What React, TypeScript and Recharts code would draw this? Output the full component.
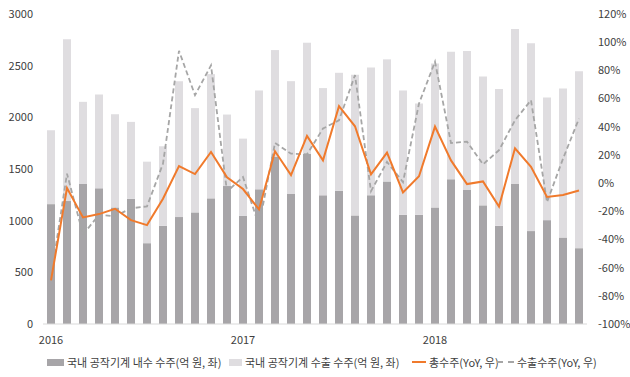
import React from "react";
import { ComposedChart, Bar, Line, XAxis, YAxis } from "recharts";

const months = [
  "2016-01", "2016-02", "2016-03", "2016-04", "2016-05", "2016-06", "2016-07", "2016-08", "2016-09", "2016-10", "2016-11", "2016-12",
  "2017-01", "2017-02", "2017-03", "2017-04", "2017-05", "2017-06", "2017-07", "2017-08", "2017-09", "2017-10", "2017-11", "2017-12",
  "2018-01", "2018-02", "2018-03", "2018-04", "2018-05", "2018-06", "2018-07", "2018-08", "2018-09", "2018-10",
];

// 내수 수주 (억 원)
const domestic = [
  1160, 1190, 1355, 1313, 1128, 1212, 782, 950, 1035, 1080, 1216, 1335,
  1048, 1303, 1617, 1258, 1646, 1245, 1290, 1051, 1245, 1380, 1057, 1057,
  1128, 1400, 1296, 1148, 950, 1355, 899, 1005, 837, 734,
];

// 수출 수주 (억 원)
const exports_ = [
  715, 1565, 795, 908, 902, 744, 789, 770, 1315, 1009, 1202, 692,
  746, 957, 1034, 1092, 1076, 1038, 1141, 1361, 1238, 1181, 1203, 1077,
  1392, 1235, 1345, 1248, 1323, 1500, 1817, 1187, 1442, 1713,
];

// 총수주 YoY (%)
const totalYoY = [
  -69, -3.5, -24.4, -22, -18.2, -26.3, -29.8, -11.1, 12.1, 6.4, 22.1, 4.1,
  -4.2, -18.7, 22.6, 5.7, 33.5, 16.1, 54.6, 40.3, 6.2, 21.6, -6.6, 4.8,
  40.1, 16.1, -0.7, 1.2, -16.6, 24.7, 11.6, -9.9, -8.5, -5.2,
];

// 수출수주 YoY (%)
const exportYoY = [
  -67, 6.7, -36.5, -22.5, -23.5, -17.9, -16.5, 13.8, 93.9, 62.4, 83.5, -6,
  4.3, -30.1, 28.5, 20.9, 20.4, 38.7, 44.6, 76.6, -5.7, 15, 0.7, 56.5,
  86.1, 28.5, 29.4, 13.3, 23.3, 44.6, 58.8, -13.5, 17.3, 45.8,
];

const yearTicks = ["2016-01", "2017-01", "2018-01"];
const leftTicks = [0, 500, 1000, 1500, 2000, 2500, 3000];
const rightTicks = [-100, -80, -60, -40, -20, 0, 20, 40, 60, 80, 100, 120];

const data = months.map((m, i) => ({
  month: m,
  domestic: domestic[i],
  exports: exports_[i],
  totalYoY: totalYoY[i],
  exportYoY: exportYoY[i],
}));

const FONT = "'Noto Sans CJK KR', 'Noto Sans', sans-serif";
const TICK = { fontSize: 11, fill: "#404040", fontFamily: FONT };
const DARK = "#a7a5a8";
const LIGHT = "#dfdde0";
const ORANGE = "#f07a2c";
const DASH = "#a6a6a6";

function LegendItem({ left, icon, label }: { left: number; icon: React.ReactNode; label: string }) {
  return (
    <div style={{ position: "absolute", left, top: 0, height: 24, display: "flex", alignItems: "center" }}>
      {icon}
      <span style={{ marginLeft: 3, fontSize: 11, color: "#404040", fontFamily: FONT, whiteSpace: "nowrap" }}>{label}</span>
    </div>
  );
}

export default function App() {
  return (
    <div style={{ position: "absolute", left: 0, top: 0, width: 630, height: 377, background: "#fff" }}>
      <ComposedChart width={630} height={350} data={data} margin={{ top: 14, right: 0, left: 0, bottom: 0 }} barSize={8}>
        <XAxis
          dataKey="month"
          ticks={yearTicks}
          interval={0}
          tickFormatter={(v: string) => v.slice(0, 4)}
          tick={TICK}
          tickLine={false}
          axisLine={{ stroke: "#d9d9d9" }}
          height={26}
          tickMargin={6}
        />
        <YAxis
          yAxisId="left"
          domain={[0, 3000]}
          ticks={leftTicks}
          tick={TICK}
          tickLine={false}
          axisLine={false}
          width={43}
          tickMargin={4}
          interval={0}
        />
        <YAxis
          yAxisId="right"
          orientation="right"
          domain={[-100, 120]}
          ticks={rightTicks}
          tickFormatter={(v: number) => `${v}%`}
          tick={{ ...TICK, textAnchor: "start" }}
          tickLine={false}
          axisLine={false}
          width={43}
          tickMargin={5}
          interval={0}
        />
        <Bar yAxisId="left" dataKey="domestic" stackId="a" fill={DARK} isAnimationActive={false} />
        <Bar yAxisId="left" dataKey="exports" stackId="a" fill={LIGHT} isAnimationActive={false} />
        <Line yAxisId="right" type="linear" dataKey="exportYoY" stroke={DASH} strokeWidth={1.8} strokeDasharray="5 3" dot={false} isAnimationActive={false} />
        <Line yAxisId="right" type="linear" dataKey="totalYoY" stroke={ORANGE} strokeWidth={2} dot={false} isAnimationActive={false} />
      </ComposedChart>
      <div style={{ position: "absolute", left: 0, top: 350, width: 630, height: 24 }}>
        <LegendItem left={47} icon={<span style={{ width: 17, height: 7, background: DARK, display: "inline-block" }} />} label="국내 공작기계 내수 수주(억 원, 좌)" />
        <LegendItem left={229} icon={<span style={{ width: 13, height: 7, background: LIGHT, display: "inline-block" }} />} label="국내 공작기계 수출 수주(억 원, 좌)" />
        <LegendItem left={412} icon={<span style={{ width: 14, height: 2, background: ORANGE, display: "inline-block" }} />} label="총수주(YoY, 우)" />
        <LegendItem left={497} icon={<span style={{ width: 17, height: 0, borderTop: `2px dashed ${DASH}`, display: "inline-block" }} />} label="수출수주(YoY, 우)" />
      </div>
    </div>
  );
}
